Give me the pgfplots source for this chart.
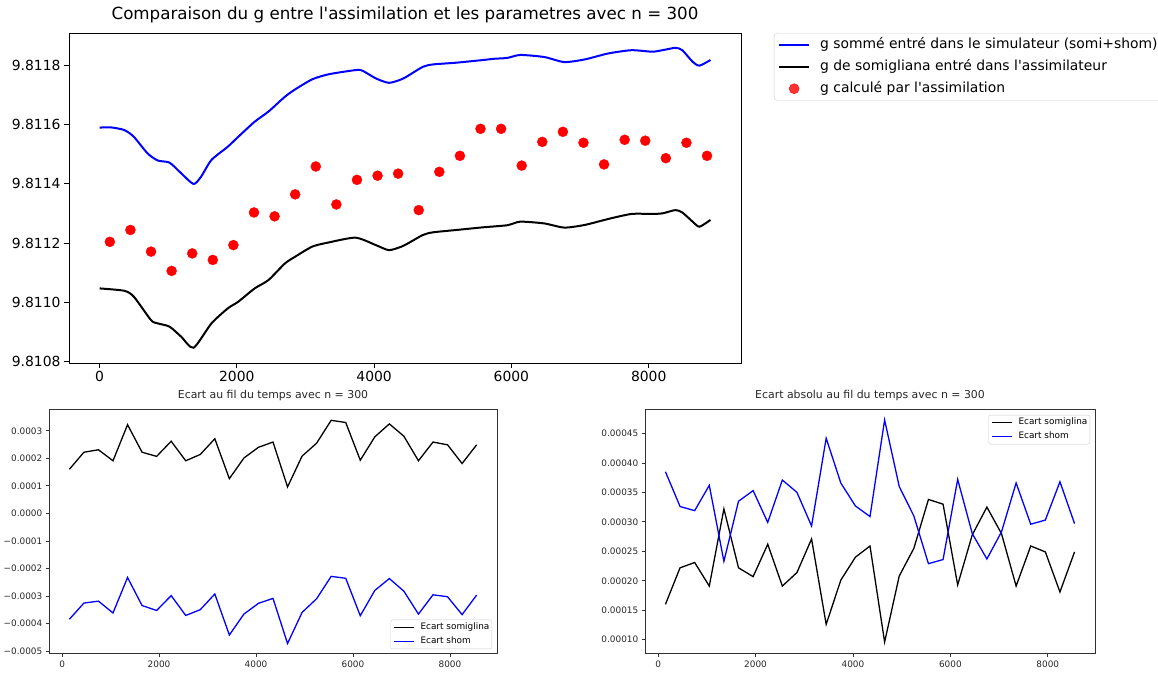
\documentclass[border=0pt]{standalone}
\usepackage{pgfplots}
\pgfplotsset{compat=1.18}
\usepackage{pgfplotstable}
\usepackage{fontspec}
\setmainfont{DejaVu Sans}

\newcommand\tickfont{\fontsize{13.9}{16}\selectfont}
\newcommand\titlefont{\fontsize{16.7}{20}\selectfont}
\newcommand\smallfont{\fontsize{8.9}{10.5}\selectfont}
\newcommand\smalltitle{\fontsize{10.9}{12.5}\selectfont}

% g somme (somi+shom) entre dans le simulateur
\pgfplotstableread{
t g
0 9.811589
160 9.811590
360 9.811581
500 9.811558
700 9.811502
850 9.811478
1020 9.811471
1190 9.811435
1370 9.811399
1480 9.811424
1630 9.811480
1870 9.811525
2020 9.811558
2260 9.811609
2460 9.811643
2700 9.811693
2850 9.811718
3100 9.811752
3340 9.811769
3730 9.811783
3830 9.811781
4025 9.811755
4216 9.811740
4400 9.811752
4510 9.811766
4710 9.811794
4855 9.811802
5200 9.811808
5590 9.811817
5740 9.811821
5940 9.811824
6130 9.811834
6480 9.811827
6770 9.811810
7070 9.811819
7410 9.811839
7750 9.811850
8050 9.811845
8200 9.811850
8390 9.811858
8490 9.811850
8640 9.811811
8740 9.811798
8900 9.811817
}\gsomme

% g de somigliana
\pgfplotstableread{
t g
0 9.811047
360 9.811039
500 9.811019
750 9.810940
850 9.810929
1020 9.810918
1190 9.810884
1370 9.810847
1630 9.810929
1870 9.810980
2020 9.811002
2260 9.811047
2460 9.811075
2700 9.811131
2850 9.811154
3100 9.811188
3340 9.811202
3730 9.811218
4025 9.811193
4216 9.811176
4400 9.811188
4510 9.811201
4710 9.811227
4855 9.811236
5200 9.811244
5590 9.811253
5940 9.811260
6130 9.811272
6480 9.811266
6770 9.811252
7070 9.811261
7410 9.811281
7750 9.811298
8050 9.811298
8200 9.811300
8390 9.811311
8490 9.811303
8640 9.811272
8740 9.811255
8900 9.811278
}\gsomi

% g calcule par l'assimilation
\pgfplotstableread{
t g
150 9.811204
450 9.811244
750 9.811171
1050 9.811106
1350 9.811165
1650 9.811143
1950 9.811193
2250 9.811303
2550 9.811290
2850 9.811364
3150 9.811458
3450 9.811330
3750 9.811413
4050 9.811427
4350 9.811434
4650 9.811311
4950 9.811440
5250 9.811494
5550 9.811585
5850 9.811585
6150 9.811461
6450 9.811541
6750 9.811575
7050 9.811538
7350 9.811465
7650 9.811548
7950 9.811545
8250 9.811486
8550 9.811538
8850 9.811494
}\gassim

% ecarts
\pgfplotstableread{
t somi shom shomabs
150 0.000160 -0.000385 0.000385
450 0.000222 -0.000326 0.000326
750 0.000231 -0.000319 0.000319
1050 0.000191 -0.000362 0.000362
1350 0.000322 -0.000233 0.000233
1650 0.000222 -0.000335 0.000335
1950 0.000207 -0.000353 0.000353
2250 0.000262 -0.000299 0.000299
2550 0.000191 -0.000371 0.000371
2850 0.000214 -0.000350 0.000350
3150 0.000271 -0.000293 0.000293
3450 0.000126 -0.000442 0.000442
3750 0.000201 -0.000366 0.000366
4050 0.000240 -0.000327 0.000327
4350 0.000259 -0.000309 0.000309
4650 0.000096 -0.000473 0.000473
4950 0.000208 -0.000360 0.000360
5250 0.000255 -0.000310 0.000310
5550 0.000338 -0.000229 0.000229
5850 0.000330 -0.000236 0.000236
6150 0.000193 -0.000372 0.000372
6450 0.000278 -0.000280 0.000280
6750 0.000325 -0.000237 0.000237
7050 0.000280 -0.000283 0.000283
7350 0.000191 -0.000366 0.000366
7650 0.000259 -0.000296 0.000296
7950 0.000249 -0.000303 0.000303
8250 0.000181 -0.000368 0.000368
8550 0.000249 -0.000297 0.000297
}\ecarts

\pgfplotsset{
  mpl/.style={
    scale only axis, anchor=north west,
    tick align=outside, xtick pos=bottom, ytick pos=left,
    minor tick num=0, scaled ticks=false,
  },
  big/.style={
    mpl,
    axis line style={black, line width=0.8pt},
    major tick length=5pt,
    tick style={black, line width=0.8pt},
    ticklabel style={font=\tickfont},
    title style={font=\titlefont, at={(0.5,1)}, anchor=base, yshift=8pt},
    legend image code/.code={\draw[mark repeat=2,mark phase=2,##1] plot coordinates {(0pt,0pt) (15pt,0pt) (30pt,0pt)};},
  },
  small/.style={
    mpl,
    axis line style={black!80, line width=0.7pt},
    major tick length=3.2pt,
    tick style={black!80, line width=0.7pt},
    ticklabel style={font=\smallfont, text=black!85},
    title style={font=\smalltitle, text=black!85, at={(0.5,1)}, anchor=base, yshift=5pt},
    xmin=-270, xmax=8970,
    xtick={0,2000,4000,6000,8000}, xticklabels={0,2000,4000,6000,8000},
    legend cell align=left,
    legend image code/.code={\draw[##1] plot coordinates {(0pt,0pt) (20pt,0pt)};},
  },
  smalllegend/.style={
    font=\smallfont, draw=black!20, rounded corners=2pt,
    fill=white, fill opacity=0.8, text opacity=1,
    inner xsep=2.5pt, inner ysep=3pt, column sep=6pt, row sep=5pt,
    nodes={inner sep=0pt, text height=6.8pt, text depth=2.2pt},
  },
}

\begin{document}
\begin{tikzpicture}
\path[use as bounding box] (0pt,0pt) rectangle (1158pt,-672pt);

\begin{axis}[
  big,
  at={(69pt,-33pt)}, width=672pt, height=330pt,
  xmin=-445, xmax=9345, ymin=9.8107955, ymax=9.811908,
  xtick={0,2000,4000,6000,8000}, xticklabels={0,2000,4000,6000,8000},
  ytick={9.8108,9.8110,9.8112,9.8114,9.8116,9.8118},
  yticklabels={9.8108,9.8110,9.8112,9.8114,9.8116,9.8118},
  title={Comparaison du g entre l\textquotesingle assimilation et les parametres avec n = 300},
  legend cell align=left,
  legend style={at={(1.049,1)}, anchor=north west, font=\tickfont,
    draw=black!20, rounded corners=3pt, fill=white, fill opacity=0.8, text opacity=1,
    inner xsep=4pt, inner ysep=4.5pt, column sep=10pt, row sep=8pt,
    nodes={inner sep=0pt, text height=10.5pt, text depth=3.5pt}},
]
\addplot[blue, line width=2pt, smooth, tension=0.4] table[x=t, y=g] {\gsomme};
\addlegendentry{g sommé entré dans le simulateur (somi+shom)}
\addplot[black, line width=2pt, smooth, tension=0.4] table[x=t, y=g] {\gsomi};
\addlegendentry{g de somigliana entré dans l\textquotesingle assimilateur}
\addplot[only marks, mark=*, mark size=5pt, red, mark options={draw=red, fill=red}] table[x=t, y=g] {\gassim};
\addlegendentry{g calculé par l\textquotesingle assimilation}
\end{axis}

\begin{axis}[
  small,
  at={(49pt,-409.3pt)}, width=448pt, height=244.4pt,
  ymin=-0.000510, ymax=0.000378,
  ytick={-0.0005,-0.0004,-0.0003,-0.0002,-0.0001,0,0.0001,0.0002,0.0003},
  yticklabels={−0.0005,−0.0004,−0.0003,−0.0002,−0.0001,0.0000,0.0001,0.0002,0.0003},
  title={Ecart au fil du temps avec n = 300},
  legend style={smalllegend, at={(0.989,0.019)}, anchor=south east},
]
\addplot[black, line width=1.3pt] table[x=t, y=somi] {\ecarts};
\addlegendentry{Ecart somiglina}
\addplot[blue, line width=1.3pt] table[x=t, y=shom] {\ecarts};
\addlegendentry{Ecart shom}
\end{axis}

\begin{axis}[
  small,
  at={(645pt,-409.3pt)}, width=450pt, height=244.4pt,
  ymin=0.0000762, ymax=0.000491,
  ytick={0.0001,0.00015,0.0002,0.00025,0.0003,0.00035,0.0004,0.00045},
  yticklabels={0.00010,0.00015,0.00020,0.00025,0.00030,0.00035,0.00040,0.00045},
  title={Ecart absolu au fil du temps avec n = 300},
  legend style={smalllegend, at={(0.989,0.977)}, anchor=north east},
]
\addplot[black, line width=1.3pt] table[x=t, y=somi] {\ecarts};
\addlegendentry{Ecart somiglina}
\addplot[blue, line width=1.3pt] table[x=t, y=shomabs] {\ecarts};
\addlegendentry{Ecart shom}
\end{axis}
\end{tikzpicture}
\end{document}
